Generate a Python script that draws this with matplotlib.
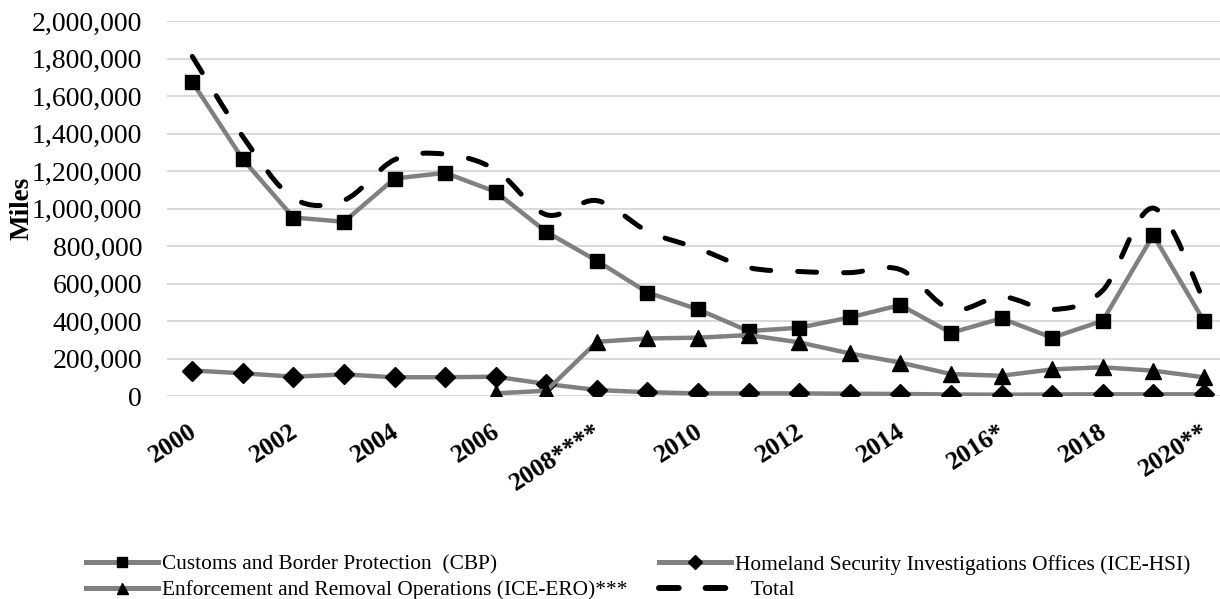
import matplotlib
matplotlib.use("Agg")
import matplotlib.pyplot as plt
import matplotlib.transforms as mtransforms
import numpy as np
from matplotlib.lines import Line2D
from matplotlib.path import Path
from matplotlib.patches import PathPatch
from matplotlib.ticker import StrMethodFormatter

plt.rcParams["font.family"] = ["Liberation Serif", "DejaVu Serif"]

# miles per year, fiscal years 2000-2020
years = list(range(2000, 2021))
tick_labels = ["2000", "2002", "2004", "2006", "2008****", "2010",
               "2012", "2014", "2016*", "2018", "2020**"]

cbp = [1675000, 1262000, 952000, 929000, 1160000, 1190000, 1089000, 875000,
       721000, 552000, 462000, 346000, 364000, 419000, 485000, 337000,
       414000, 311000, 401000, 858000, 401000]
hsi = [136000, 121000, 103000, 115000, 100000, 100000, 103000, 64000,
       32000, 20000, 14000, 14000, 14000, 12000, 11000, 8000,
       7000, 8000, 9000, 9000, 9000]
# ERO series begins in 2006
ero_years = list(range(2006, 2021))
ero = [14000, 28000, 289000, 307000, 311000, 325000, 286000, 227000,
       178000, 117000, 108000, 142000, 153000, 135000, 100000]
total = [1811000, 1383000, 1055000, 1044000, 1260000, 1290000, 1206000, 967000,
         1042000, 879000, 787000, 685000, 664000, 658000, 674000, 462000,
         529000, 461000, 563000, 1002000, 510000]

gray = "#808080"

fig = plt.figure(figsize=(12.2, 5.99), dpi=100)
ax = fig.add_axes([167 / 1220, 1 - 396 / 599, 1 - 167 / 1220, 375 / 599])

x = np.array(years) - years[0]
x_ero = np.array(ero_years) - years[0]

ax.plot(x, cbp, color=gray, lw=3.2, marker="s", ms=9.5,
        mfc="black", mec="black", zorder=3)
ax.plot(x, hsi, color=gray, lw=3.2, marker="D", ms=10,
        mfc="black", mec="black", zorder=4)
ax.plot(x_ero, ero, color=gray, lw=3.2, marker="^", ms=11,
        mfc="black", mec="black", zorder=5)

# total drawn as a smoothed curve (Bezier through each year's value)
pts = np.column_stack([x, total]).astype(float)
verts = [pts[0]]
codes = [Path.MOVETO]
for i in range(len(pts) - 1):
    p0 = pts[i - 1] if i > 0 else pts[i]
    p1 = pts[i]
    p2 = pts[i + 1]
    p3 = pts[i + 2] if i + 2 < len(pts) else pts[i + 1]
    verts += [p1 + (p2 - p0) / 6, p2 - (p3 - p1) / 6, p2]
    codes += [Path.CURVE4] * 3
ax.add_patch(PathPatch(Path(verts, codes), fill=False, edgecolor="black",
                       lw=3.6, linestyle=(0, (3.8, 5.4)), capstyle="round",
                       zorder=6))

ax.set_xlim(-0.5, 20.32)
ax.set_ylim(0, 2000000)
ax.set_yticks(np.arange(0, 2000001, 200000))
ax.yaxis.set_major_formatter(StrMethodFormatter("{x:,.0f}"))
ax.set_xticks(x[::2])
ax.set_xticklabels(tick_labels)
ax.grid(axis="y", color="#d9d9d9", lw=1.4)
ax.set_axisbelow(True)
for s in ax.spines.values():
    s.set_visible(False)
ax.tick_params(axis="y", length=0, pad=18, labelsize=20)
ax.tick_params(axis="x", length=0, pad=17, labelsize=18.5)
shift = mtransforms.ScaledTranslation(-3 / 72, 0, fig.dpi_scale_trans)
for lbl in ax.get_xticklabels():
    lbl.set_fontweight("bold")
    lbl.set_rotation(33)
    lbl.set_ha("right")
    lbl.set_va("top")
    lbl.set_rotation_mode("anchor")
    lbl.set_transform(lbl.get_transform() + shift)

fig.text(22 / 1220, 1 - 208 / 599, "Miles", rotation=90, ha="center",
         va="center", fontsize=19.5, fontweight="bold")

handles = [
    Line2D([], [], color=gray, lw=3.6, marker="s", ms=9.5, mfc="black", mec="black"),
    Line2D([], [], color=gray, lw=3.6, marker="^", ms=11, mfc="black", mec="black"),
    Line2D([], [], color=gray, lw=3.6, marker="D", ms=10, mfc="black", mec="black"),
    Line2D([], [], color="black", lw=4.3, dashes=(3.3, 4.5), dash_capstyle="round"),
]
labels = ["Customs and Border Protection  (CBP)",
          "Enforcement and Removal Operations (ICE-ERO)***",
          "Homeland Security Investigations Offices (ICE-HSI)",
          "   Total"]
fig.legend(handles, labels, ncol=2, loc="upper left",
           bbox_to_anchor=(86 / 1220, 1 - 555 / 599), frameon=False,
           fontsize=15.4, handlelength=3.36, handletextpad=0.2,
           columnspacing=1.48, labelspacing=0.25, markerscale=0.72,
           borderpad=0, borderaxespad=0)

fig.savefig("out.png", dpi=100)
